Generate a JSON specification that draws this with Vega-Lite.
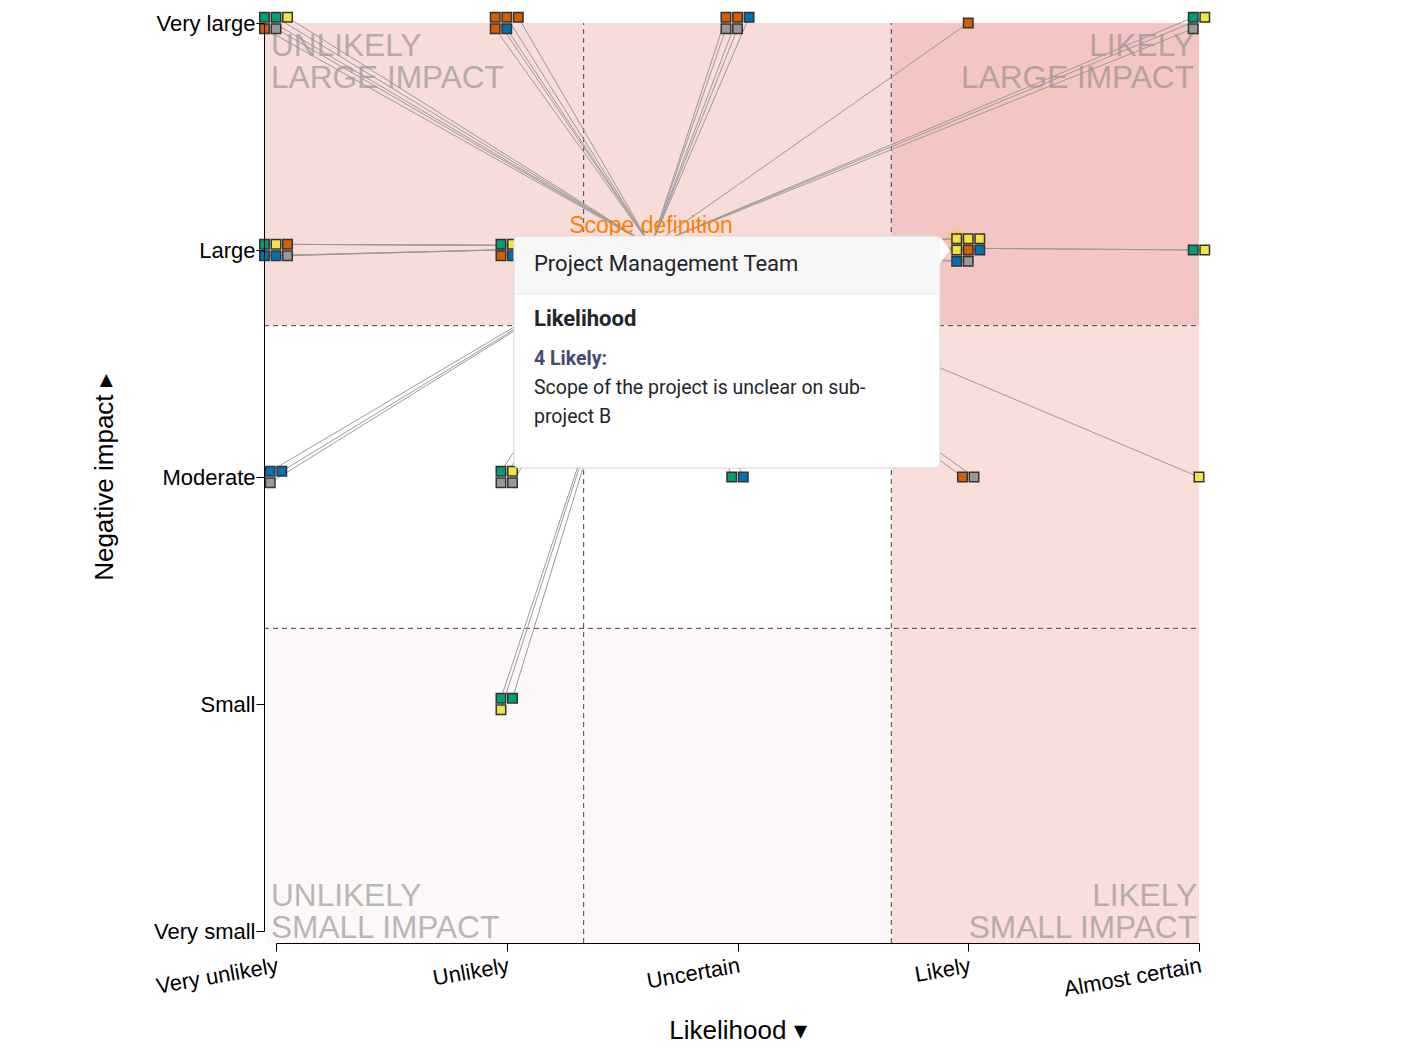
{
  "$schema": "https://vega.github.io/schema/vega-lite/v6.json",
  "width": 935,
  "height": 920,
  "autosize": {"type": "none"},
  "padding": {"left": 264, "top": 23, "right": 202, "bottom": 106},
  "background": "white",
  "config": {
    "view": {"stroke": null},
    "font": "Liberation Sans",
    "axis": {
      "grid": false,
      "labelFont": "Liberation Sans",
      "labelFontSize": 22,
      "labelColor": "#000",
      "titleFont": "Liberation Sans",
      "titleFontSize": 26,
      "titleFontWeight": "normal",
      "titleColor": "#000",
      "domainColor": "#000",
      "tickColor": "#000",
      "labelOverlap": false
    }
  },
  "datasets": {
    "risks": [
      {"id": 1, "risk": "Scope definition", "team": "Steering Committee", "likelihood": 1, "impact": 5},
      {"id": 2, "risk": "Scope definition", "team": "Steering Committee", "likelihood": 1, "impact": 5},
      {"id": 3, "risk": "Scope definition", "team": "Project Management Team", "likelihood": 1, "impact": 5},
      {"id": 4, "risk": "Scope definition", "team": "Finance", "likelihood": 1, "impact": 5},
      {"id": 5, "risk": "Scope definition", "team": "Operations", "likelihood": 1, "impact": 5},
      {"id": 6, "risk": "Scope definition", "team": "Finance", "likelihood": 2, "impact": 5},
      {"id": 7, "risk": "Scope definition", "team": "Finance", "likelihood": 2, "impact": 5},
      {"id": 8, "risk": "Scope definition", "team": "Finance", "likelihood": 2, "impact": 5},
      {"id": 9, "risk": "Scope definition", "team": "Finance", "likelihood": 2, "impact": 5},
      {"id": 10, "risk": "Scope definition", "team": "IT", "likelihood": 2, "impact": 5},
      {"id": 11, "risk": "Scope definition", "team": "Finance", "likelihood": 3, "impact": 5},
      {"id": 12, "risk": "Scope definition", "team": "Finance", "likelihood": 3, "impact": 5},
      {"id": 13, "risk": "Scope definition", "team": "IT", "likelihood": 3, "impact": 5},
      {"id": 14, "risk": "Scope definition", "team": "Operations", "likelihood": 3, "impact": 5},
      {"id": 15, "risk": "Scope definition", "team": "Operations", "likelihood": 3, "impact": 5},
      {"id": 16, "risk": "Scope definition", "team": "Finance", "likelihood": 4, "impact": 5},
      {"id": 17, "risk": "Scope definition", "team": "Steering Committee", "likelihood": 5, "impact": 5},
      {"id": 18, "risk": "Scope definition", "team": "Project Management Team", "likelihood": 5, "impact": 5},
      {"id": 19, "risk": "Scope definition", "team": "Operations", "likelihood": 5, "impact": 5},
      {"id": 20, "risk": "Scope definition", "team": "Steering Committee", "likelihood": 1, "impact": 4},
      {"id": 21, "risk": "Scope definition", "team": "Project Management Team", "likelihood": 1, "impact": 4},
      {"id": 22, "risk": "Scope definition", "team": "Finance", "likelihood": 1, "impact": 4},
      {"id": 23, "risk": "Scope definition", "team": "IT", "likelihood": 1, "impact": 4},
      {"id": 24, "risk": "Scope definition", "team": "IT", "likelihood": 1, "impact": 4},
      {"id": 25, "risk": "Scope definition", "team": "Operations", "likelihood": 1, "impact": 4},
      {"id": 26, "risk": "Scope definition", "team": "Steering Committee", "likelihood": 2, "impact": 4},
      {"id": 27, "risk": "Scope definition", "team": "Project Management Team", "likelihood": 2, "impact": 4},
      {"id": 28, "risk": "Scope definition", "team": "Finance", "likelihood": 2, "impact": 4},
      {"id": 29, "risk": "Scope definition", "team": "IT", "likelihood": 2, "impact": 4},
      {"id": 30, "risk": "Scope definition", "team": "Steering Committee", "likelihood": 3, "impact": 4},
      {"id": 31, "risk": "Scope definition", "team": "IT", "likelihood": 3, "impact": 4},
      {"id": 32, "risk": "Scope definition", "team": "Project Management Team", "likelihood": 4, "impact": 4},
      {"id": 33, "risk": "Scope definition", "team": "Project Management Team", "likelihood": 4, "impact": 4},
      {"id": 34, "risk": "Scope definition", "team": "Project Management Team", "likelihood": 4, "impact": 4},
      {"id": 35, "risk": "Scope definition", "team": "Project Management Team", "likelihood": 4, "impact": 4},
      {"id": 36, "risk": "Scope definition", "team": "Finance", "likelihood": 4, "impact": 4},
      {"id": 37, "risk": "Scope definition", "team": "IT", "likelihood": 4, "impact": 4},
      {"id": 38, "risk": "Scope definition", "team": "IT", "likelihood": 4, "impact": 4},
      {"id": 39, "risk": "Scope definition", "team": "Operations", "likelihood": 4, "impact": 4},
      {"id": 40, "risk": "Scope definition", "team": "Steering Committee", "likelihood": 5, "impact": 4},
      {"id": 41, "risk": "Scope definition", "team": "Project Management Team", "likelihood": 5, "impact": 4},
      {"id": 42, "risk": "Scope definition", "team": "IT", "likelihood": 1, "impact": 3},
      {"id": 43, "risk": "Scope definition", "team": "IT", "likelihood": 1, "impact": 3},
      {"id": 44, "risk": "Scope definition", "team": "Operations", "likelihood": 1, "impact": 3},
      {"id": 45, "risk": "Scope definition", "team": "Steering Committee", "likelihood": 2, "impact": 3},
      {"id": 46, "risk": "Scope definition", "team": "Project Management Team", "likelihood": 2, "impact": 3},
      {"id": 47, "risk": "Scope definition", "team": "Operations", "likelihood": 2, "impact": 3},
      {"id": 48, "risk": "Scope definition", "team": "Operations", "likelihood": 2, "impact": 3},
      {"id": 49, "risk": "Scope definition", "team": "Steering Committee", "likelihood": 3, "impact": 3},
      {"id": 50, "risk": "Scope definition", "team": "IT", "likelihood": 3, "impact": 3},
      {"id": 51, "risk": "Scope definition", "team": "Finance", "likelihood": 4, "impact": 3},
      {"id": 52, "risk": "Scope definition", "team": "Operations", "likelihood": 4, "impact": 3},
      {"id": 53, "risk": "Scope definition", "team": "Project Management Team", "likelihood": 5, "impact": 3},
      {"id": 54, "risk": "Scope definition", "team": "Steering Committee", "likelihood": 2, "impact": 2},
      {"id": 55, "risk": "Scope definition", "team": "Steering Committee", "likelihood": 2, "impact": 2},
      {"id": 56, "risk": "Scope definition", "team": "Project Management Team", "likelihood": 2, "impact": 2}
    ]
  },
  "layer": [
    {
      "data": {"values": [{}]},
      "mark": {"type": "rect", "color": "#f8dcda"},
      "encoding": {
        "x": {"datum": 0.948, "type": "quantitative", "title": "Likelihood ▾", "scale": {"domain": [1, 5], "range": [12, 935], "nice": false, "zero": false},
          "axis": {"zindex": 2, "values": [1, 2, 3, 4, 5], "labelExpr": "['', 'Very unlikely', 'Unlikely', 'Uncertain', 'Likely', 'Almost certain'][datum.value]", "labelAngle": -10, "labelAlign": "right", "labelBaseline": "top", "labelFlush": false, "tickSize": 8, "labelPadding": 4, "titlePadding": 18}},
        "x2": {"datum": 3.667},
        "y": {"datum": 3.667, "type": "quantitative", "title": "Negative impact ▸", "scale": {"domain": [1, 5], "range": [908, 0], "nice": false, "zero": false},
          "axis": {"zindex": 2, "values": [1, 2, 3, 4, 5], "labelExpr": "['', 'Very small', 'Small', 'Moderate', 'Large', 'Very large'][datum.value]", "labelFlush": false, "tickSize": 8, "labelPadding": 1, "titlePadding": 36}},
        "y2": {"datum": 5}
      }
    },
    {
      "data": {"values": [{}]},
      "mark": {"type": "rect", "color": "#f4c6c3"},
      "encoding": {
        "x": {"datum": 3.667, "type": "quantitative", "title": "Likelihood ▾"},
        "x2": {"datum": 5},
        "y": {"datum": 3.667, "type": "quantitative", "title": "Negative impact ▸"},
        "y2": {"datum": 5}
      }
    },
    {
      "data": {"values": [{}]},
      "mark": {"type": "rect", "color": "#f9dedc"},
      "encoding": {
        "x": {"datum": 3.667, "type": "quantitative", "title": "Likelihood ▾"},
        "x2": {"datum": 5},
        "y": {"datum": 0.947, "type": "quantitative", "title": "Negative impact ▸"},
        "y2": {"datum": 3.667}
      }
    },
    {
      "data": {"values": [{}]},
      "mark": {"type": "rect", "color": "#fdf8f8"},
      "encoding": {
        "x": {"datum": 0.952, "type": "quantitative", "title": "Likelihood ▾"},
        "x2": {"datum": 3.667},
        "y": {"datum": 0.947, "type": "quantitative", "title": "Negative impact ▸"},
        "y2": {"datum": 2.333}
      }
    },
    {
      "data": {"values": [{"threshold": 2.3333}, {"threshold": 3.6667}]},
      "mark": {"type": "rule", "color": "#444", "strokeWidth": 1, "strokeDash": [5, 4]},
      "encoding": {
        "x": {"field": "threshold", "type": "quantitative", "title": "Likelihood ▾"},
        "y": {"datum": 0.947, "type": "quantitative", "title": "Negative impact ▸"},
        "y2": {"datum": 5}
      }
    },
    {
      "data": {"values": [{"threshold": 2.3333}, {"threshold": 3.6667}]},
      "mark": {"type": "rule", "color": "#444", "strokeWidth": 1, "strokeDash": [5, 4]},
      "encoding": {
        "y": {"field": "threshold", "type": "quantitative", "title": "Negative impact ▸"},
        "x": {"datum": 0.948, "type": "quantitative", "title": "Likelihood ▾"},
        "x2": {"datum": 5}
      }
    },
    {
      "data": {"values": [{}]},
      "mark": {"type": "text", "text": ["UNLIKELY", "LARGE IMPACT"], "font": "Liberation Sans", "fontSize": 31.6, "lineHeight": 32, "align": "left", "baseline": "alphabetic", "dx": 7, "dy": 33, "color": "#888888", "opacity": 0.58},
      "encoding": {
        "x": {"datum": 0.948, "type": "quantitative", "title": "Likelihood ▾"},
        "y": {"datum": 5, "type": "quantitative", "title": "Negative impact ▸"}
      }
    },
    {
      "data": {"values": [{}]},
      "mark": {"type": "text", "text": ["LIKELY", "LARGE IMPACT"], "font": "Liberation Sans", "fontSize": 31.6, "lineHeight": 32, "align": "right", "baseline": "alphabetic", "dx": -5, "dy": 33, "color": "#888888", "opacity": 0.58},
      "encoding": {
        "x": {"datum": 5, "type": "quantitative", "title": "Likelihood ▾"},
        "y": {"datum": 5, "type": "quantitative", "title": "Negative impact ▸"}
      }
    },
    {
      "data": {"values": [{}]},
      "mark": {"type": "text", "text": ["UNLIKELY", "SMALL IMPACT"], "font": "Liberation Sans", "fontSize": 31.6, "lineHeight": 32, "align": "left", "baseline": "alphabetic", "dx": 7, "dy": -37, "color": "#888888", "opacity": 0.58},
      "encoding": {
        "x": {"datum": 0.948, "type": "quantitative", "title": "Likelihood ▾"},
        "y": {"datum": 0.947, "type": "quantitative", "title": "Negative impact ▸"}
      }
    },
    {
      "data": {"values": [{}]},
      "mark": {"type": "text", "text": ["LIKELY", "SMALL IMPACT"], "font": "Liberation Sans", "fontSize": 31.6, "lineHeight": 32, "align": "right", "baseline": "alphabetic", "dx": -2, "dy": -37, "color": "#888888", "opacity": 0.58},
      "encoding": {
        "x": {"datum": 5, "type": "quantitative", "title": "Likelihood ▾"},
        "y": {"datum": 0.947, "type": "quantitative", "title": "Negative impact ▸"}
      }
    },
    {
      "data": {"name": "risks"},
      "transform": [
        {"window": [{"op": "row_number", "as": "k"}], "groupby": ["likelihood", "impact"], "sort": [{"field": "id"}]},
        {"joinaggregate": [{"op": "count", "as": "n"}], "groupby": ["likelihood", "impact"]},
        {"joinaggregate": [{"op": "mean", "field": "likelihood", "as": "cx"}, {"op": "mean", "field": "impact", "as": "cy"}], "groupby": ["risk"]},
        {"calculate": "ceil(sqrt(datum.n))", "as": "ncol"},
        {"calculate": "ceil(datum.n / datum.ncol)", "as": "nrow"},
        {"calculate": "datum.likelihood + (((datum.k - 1) % datum.ncol) - (datum.ncol - 1) / 2) * 0.05", "as": "px"},
        {"calculate": "datum.impact + ((datum.nrow - 1) / 2 - floor((datum.k - 1) / datum.ncol)) * 0.05", "as": "py"}
      ],
      "mark": {"type": "rule", "color": "#9a9a9a", "strokeWidth": 1},
      "encoding": {
        "x": {"field": "px", "type": "quantitative", "title": "Likelihood ▾"},
        "y": {"field": "py", "type": "quantitative", "title": "Negative impact ▸"},
        "x2": {"field": "cx"},
        "y2": {"field": "cy"}
      }
    },
    {
      "data": {"values": [{}]},
      "mark": {"type": "point", "shape": "circle", "filled": true, "size": 420, "color": "#ffc400", "opacity": 0.3},
      "encoding": {
        "x": {"datum": 3.95, "type": "quantitative", "title": "Likelihood ▾"},
        "y": {"datum": 4.05, "type": "quantitative", "title": "Negative impact ▸"}
      }
    },
    {
      "data": {"name": "risks"},
      "transform": [
        {"window": [{"op": "row_number", "as": "k"}], "groupby": ["likelihood", "impact"], "sort": [{"field": "id"}]},
        {"joinaggregate": [{"op": "count", "as": "n"}], "groupby": ["likelihood", "impact"]},
        {"calculate": "ceil(sqrt(datum.n))", "as": "ncol"},
        {"calculate": "ceil(datum.n / datum.ncol)", "as": "nrow"},
        {"calculate": "datum.likelihood + (((datum.k - 1) % datum.ncol) - (datum.ncol - 1) / 2) * 0.05", "as": "px"},
        {"calculate": "datum.impact + ((datum.nrow - 1) / 2 - floor((datum.k - 1) / datum.ncol)) * 0.05", "as": "py"}
      ],
      "mark": {"type": "point", "shape": "square", "filled": true, "size": 90, "stroke": "#333333", "strokeWidth": 1.5, "opacity": 1},
      "encoding": {
        "x": {"field": "px", "type": "quantitative", "title": "Likelihood ▾"},
        "y": {"field": "py", "type": "quantitative", "title": "Negative impact ▸"},
        "color": {"field": "team", "type": "nominal", "legend": null,
          "scale": {"domain": ["Steering Committee", "Project Management Team", "Finance", "IT", "Operations"], "range": ["#009E73", "#F0E442", "#D55E00", "#0072B2", "#999999"]}}
      }
    },
    {
      "data": {"name": "risks"},
      "transform": [
        {"aggregate": [{"op": "mean", "field": "likelihood", "as": "cx"}, {"op": "mean", "field": "impact", "as": "cy"}], "groupby": ["risk"]}
      ],
      "mark": {"type": "text", "font": "Liberation Sans", "fontSize": 23, "color": "#ff8000", "align": "center", "baseline": "alphabetic", "dy": -13},
      "encoding": {
        "x": {"field": "cx", "type": "quantitative", "title": "Likelihood ▾"},
        "y": {"field": "cy", "type": "quantitative", "title": "Negative impact ▸"},
        "text": {"field": "risk"}
      }
    },
    {
      "data": {"values": [{}]},
      "mark": {"type": "rect", "color": "white", "stroke": "#d4d4d4", "strokeWidth": 1, "cornerRadius": 5},
      "encoding": {
        "x": {"datum": 2.031, "type": "quantitative", "title": "Likelihood ▾"},
        "x2": {"datum": 3.878},
        "y": {"datum": 3.0396, "type": "quantitative", "title": "Negative impact ▸"},
        "y2": {"datum": 4.0617}
      }
    },
    {
      "data": {"values": [{}]},
      "mark": {"type": "rect", "color": "#f7f7f7", "cornerRadiusTopLeft": 4, "cornerRadiusTopRight": 4},
      "encoding": {
        "x": {"datum": 2.0355, "type": "quantitative", "title": "Likelihood ▾"},
        "x2": {"datum": 3.8735},
        "y": {"datum": 3.806, "type": "quantitative", "title": "Negative impact ▸"},
        "y2": {"datum": 4.0573}
      }
    },
    {
      "data": {"values": [{}]},
      "mark": {"type": "rule", "color": "#e6e6e6", "strokeWidth": 1},
      "encoding": {
        "x": {"datum": 2.0355, "type": "quantitative", "title": "Likelihood ▾"},
        "x2": {"datum": 3.8735},
        "y": {"datum": 3.806, "type": "quantitative", "title": "Negative impact ▸"}
      }
    },
    {
      "data": {"values": [{}]},
      "mark": {"type": "point", "shape": "M -0.75 -1 L 0 0 L -0.75 1 Z", "filled": true, "size": 784, "color": "white", "opacity": 1},
      "encoding": {
        "x": {"datum": 3.921, "type": "quantitative", "title": "Likelihood ▾"},
        "y": {"datum": 4.0, "type": "quantitative", "title": "Negative impact ▸"}
      }
    },
    {
      "data": {"values": [{}]},
      "mark": {"type": "text", "text": "Project Management Team", "font": "Roboto", "fontSize": 22, "color": "#222529", "align": "left", "baseline": "middle"},
      "encoding": {
        "x": {"datum": 2.118, "type": "quantitative", "title": "Likelihood ▾"},
        "y": {"datum": 3.938, "type": "quantitative", "title": "Negative impact ▸"}
      }
    },
    {
      "data": {"values": [{}]},
      "mark": {"type": "text", "text": "Likelihood", "font": "Roboto", "fontSize": 22, "fontWeight": "bold", "color": "#222529", "align": "left", "baseline": "middle"},
      "encoding": {
        "x": {"datum": 2.118, "type": "quantitative", "title": "Likelihood ▾"},
        "y": {"datum": 3.696, "type": "quantitative", "title": "Negative impact ▸"}
      }
    },
    {
      "data": {"values": [{}]},
      "mark": {"type": "text", "text": "4 Likely:", "font": "Roboto", "fontSize": 19.5, "fontWeight": "bold", "color": "#454b74", "align": "left", "baseline": "middle"},
      "encoding": {
        "x": {"datum": 2.118, "type": "quantitative", "title": "Likelihood ▾"},
        "y": {"datum": 3.52, "type": "quantitative", "title": "Negative impact ▸"}
      }
    },
    {
      "data": {"values": [{}]},
      "mark": {"type": "text", "text": ["Scope of the project is unclear on sub-", "project B"], "font": "Roboto", "fontSize": 19.5, "lineHeight": 29, "color": "#222529", "align": "left", "baseline": "middle"},
      "encoding": {
        "x": {"datum": 2.118, "type": "quantitative", "title": "Likelihood ▾"},
        "y": {"datum": 3.392, "type": "quantitative", "title": "Negative impact ▸"}
      }
    }
  ]
}
